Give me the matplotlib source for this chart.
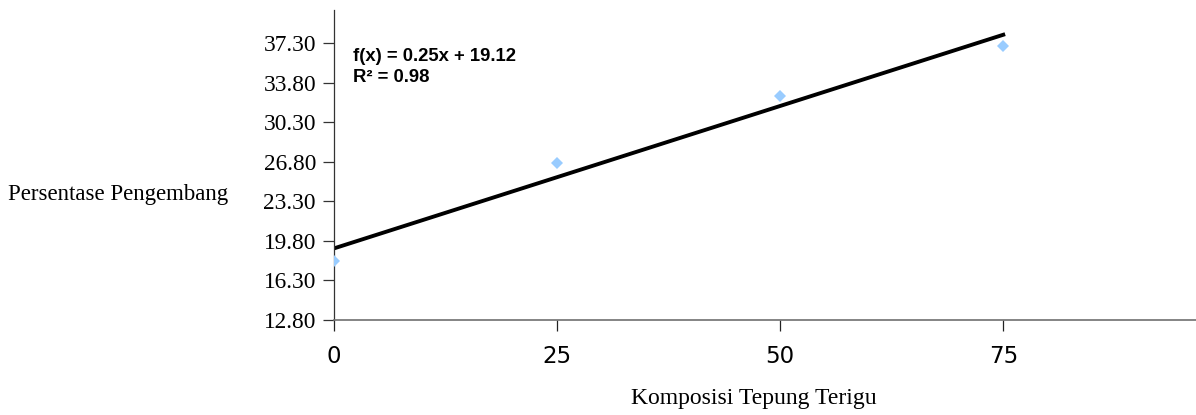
import numpy as np
import matplotlib
matplotlib.use("Agg")
import matplotlib.pyplot as plt

# Data
komposisi = [0, 25, 50, 75]
persentase = [18.03, 26.68, 32.64, 37.07]
y_ticks = [12.80, 16.30, 19.80, 23.30, 26.80, 30.30, 33.80, 37.30]
x_ticks = [0, 25, 50, 75]
eq_text = "f(x) = 0.25x + 19.12\nR² = 0.98"
xlabel = "Komposisi Tepung Terigu"
ylabel = "Persentase Pengembang"

W, H = 1196, 415
fig = plt.figure(figsize=(W / 100, H / 100), dpi=100)
ax = fig.add_axes([334 / W, 1 - 320 / H, (W - 334) / W, (320 - 10) / H])

ax.plot(komposisi, persentase, linestyle="none", marker="D", markersize=6.3,
        color="#99CCFF", markeredgewidth=0, zorder=3)

coef = np.polyfit(komposisi, persentase, 1)
xs = np.array([min(komposisi), max(komposisi)])
ax.plot(xs, np.polyval(coef, xs), color="black", linewidth=2.8, zorder=2)

ax.set_xlim(0, 96.6)
ax.set_ylim(12.80, 40.26)
ax.set_yticks(y_ticks)
ax.set_yticklabels([f"{v:.2f}" for v in y_ticks], family="Liberation Serif", fontsize=16.8)
ax.set_xticks(x_ticks)
ax.set_xticklabels([str(v) for v in x_ticks], family="DejaVu Sans", fontsize=16.5)

ax.spines["top"].set_visible(False)
ax.spines["right"].set_visible(False)
ax.spines["left"].set_color("#333333")
ax.spines["bottom"].set_color("#707070")
ax.spines["left"].set_linewidth(0.9)
ax.spines["bottom"].set_linewidth(1.2)
ax.tick_params(axis="y", direction="out", length=8, width=0.9, pad=5, colors="#333333", labelcolor="black")
ax.tick_params(axis="x", direction="out", length=8, width=0.9, pad=10, colors="#222222", labelcolor="black")

ax.text(353 / W, 1 - 48 / H, eq_text, transform=fig.transFigure, ha="left", va="top",
        family="Liberation Sans", fontweight="bold", fontsize=13.3, linespacing=1.3)

fig.text(754 / W, 1 - 398 / H, xlabel, ha="center", va="center",
         family="Liberation Serif", fontsize=17)
fig.text(8 / W, 1 - 194 / H, ylabel, ha="left", va="center",
         family="Liberation Serif", fontsize=16.5)

fig.savefig("out.png", dpi=100)
